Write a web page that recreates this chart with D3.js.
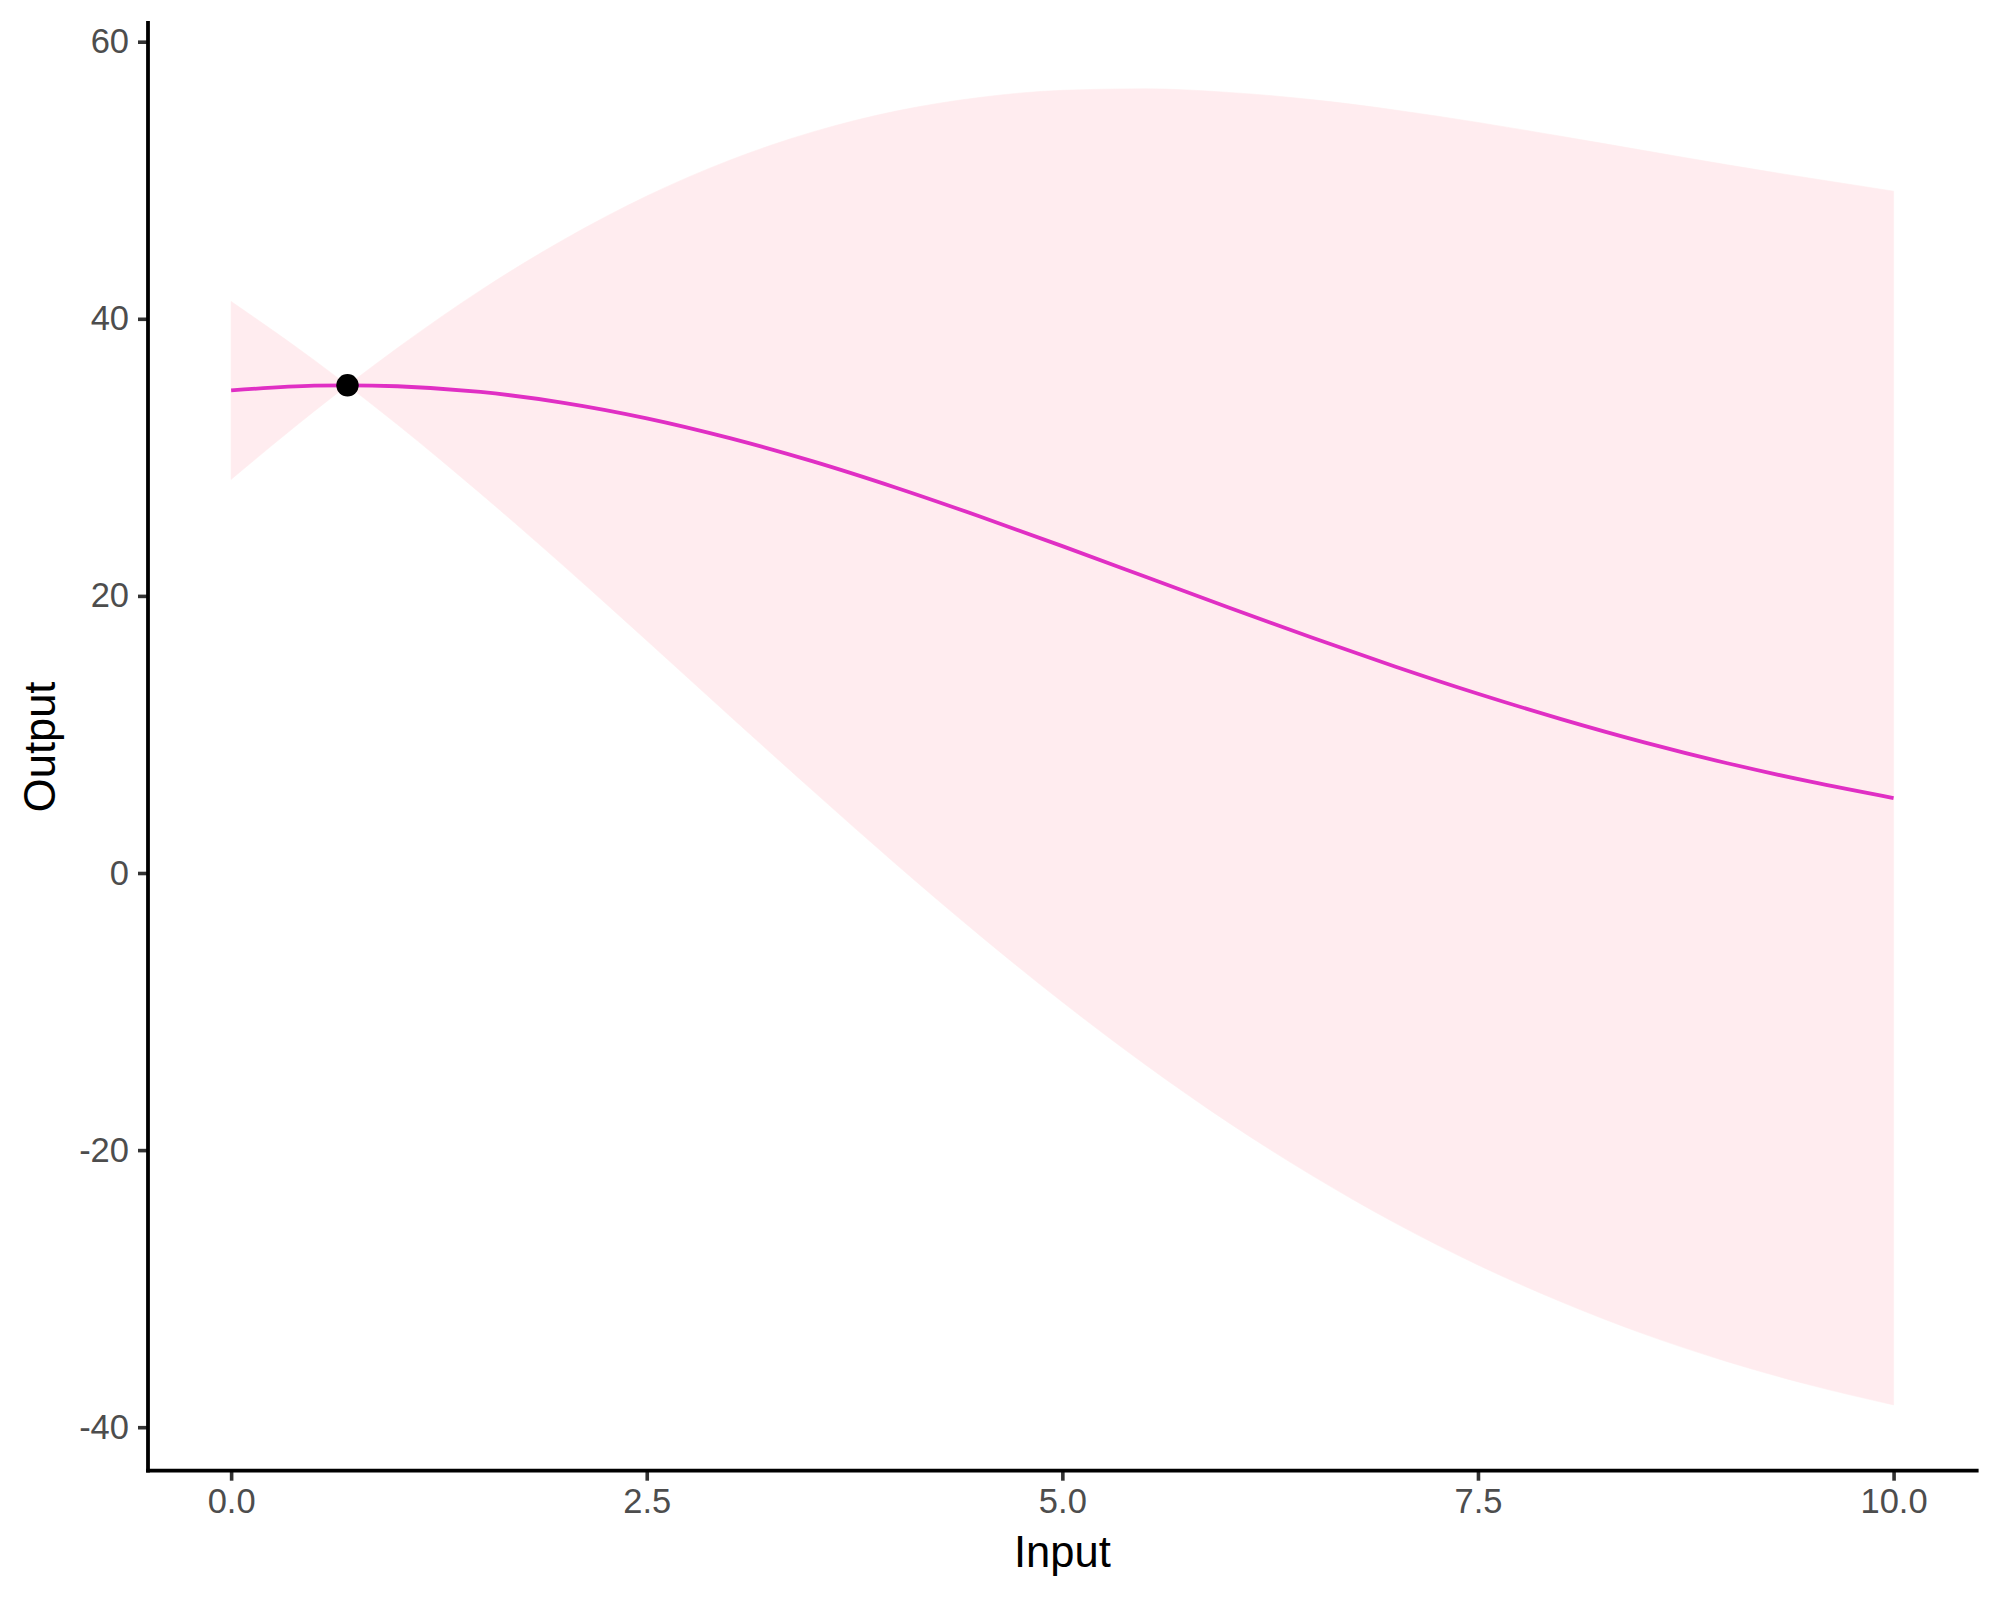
<!DOCTYPE html>
<html>
<head>
<meta charset="utf-8">
<script src="https://cdn.jsdelivr.net/npm/d3@7"></script>
<style>
  html, body { margin: 0; padding: 0; background: #ffffff; }
  svg { display: block; }
</style>
</head>
<body>
<div id="chart"></div>
<script>
// ---- data ----
const inputs = [0, 0.5, 0.7, 1.0, 1.5, 2.0, 2.5, 3.0, 3.5, 4.0, 4.5, 5.0, 5.5, 6.0, 6.5, 7.0, 7.5, 8.0, 8.5, 9.0, 9.5, 10.0];
const meanValues = [34.83, 35.17, 35.2, 35.13, 34.72, 33.94, 32.82, 31.39, 29.71, 27.81, 25.75, 23.59, 21.38, 19.16, 17.00, 14.91, 12.94, 11.11, 9.43, 7.92, 6.59, 5.41];
const upperValues = [41.25, 37.01, 35.2, 37.89, 42.05, 45.71, 48.86, 51.45, 53.49, 54.99, 55.97, 56.49, 56.60, 56.34, 55.82, 55.07, 54.17, 53.17, 52.14, 51.11, 50.14, 49.21];
const lowerValues = [28.41, 33.33, 35.2, 32.37, 27.39, 22.17, 16.78, 11.33, 5.93, 0.63, -4.47, -9.31, -13.84, -18.02, -21.82, -25.25, -28.29, -30.95, -33.28, -35.27, -36.96, -38.39];
const observedX = [0.7];
const observedY = [35.2];
const xTicks = [0, 2.5, 5, 7.5, 10];
const xTickLabels = ["0.0", "2.5", "5.0", "7.5", "10.0"];
const yTicks = [-40, -20, 0, 20, 40, 60];
const yTickLabels = ["-40", "-20", "0", "20", "40", "60"];
const xTitle = "Input";
const yTitle = "Output";

// ---- layout ----
const W = 2000, H = 1600;
const panel = { left: 148, right: 1976.7, top: 23, bottom: 1470.7 };
const font = "'Liberation Sans', Arial, Helvetica, sans-serif";

const rows = inputs.map((x, i) => ({ x, m: meanValues[i], lo: lowerValues[i], hi: upperValues[i] }));

function expand(ext) {
  const pad = (ext[1] - ext[0]) * 0.05;
  return [ext[0] - pad, ext[1] + pad];
}
const xExt = d3.extent(inputs.concat(observedX));
const yExt = d3.extent(lowerValues.concat(upperValues, meanValues, observedY));

const x = d3.scaleLinear().domain(expand(xExt)).range([panel.left, panel.right]);
const y = d3.scaleLinear().domain(expand(yExt)).range([panel.bottom, panel.top]);

const svg = d3.select("#chart").append("svg")
  .attr("width", W).attr("height", H)
  .attr("viewBox", `0 0 ${W} ${H}`);

svg.append("rect").attr("width", W).attr("height", H).attr("fill", "#ffffff");

// ribbon: split at the observation so the pinch stays sharp
const area = d3.area()
  .x(d => x(d.x))
  .y0(d => y(d.lo))
  .y1(d => y(d.hi))
  .curve(d3.curveMonotoneX);

const obsX = observedX[0];
const segments = [rows.filter(r => r.x <= obsX), rows.filter(r => r.x >= obsX)];

svg.selectAll("path.ribbon")
  .data(segments)
  .enter().append("path")
  .attr("class", "ribbon")
  .attr("d", area)
  .attr("fill", "#FFECEF")
  .attr("stroke", "#FFECEF")
  .attr("stroke-width", 0.6);

// mean line
const line = d3.line()
  .x(d => x(d.x))
  .y(d => y(d.m))
  .curve(d3.curveMonotoneX);

svg.append("path")
  .datum(rows)
  .attr("d", line)
  .attr("fill", "none")
  .attr("stroke", "#E02FC4")
  .attr("stroke-width", 3.8)
  .attr("stroke-linejoin", "round")
  .attr("stroke-linecap", "butt");

// observed point
svg.selectAll("circle.obs")
  .data(observedX.map((v, i) => ({ x: v, y: observedY[i] })))
  .enter().append("circle")
  .attr("class", "obs")
  .attr("cx", d => x(d.x))
  .attr("cy", d => y(d.y))
  .attr("r", 11.2)
  .attr("fill", "#000000");

// axes
const xAxis = d3.axisBottom(x)
  .tickValues(xTicks)
  .tickFormat((d, i) => xTickLabels[i])
  .tickSize(10)
  .tickPadding(8);

const yAxis = d3.axisLeft(y)
  .tickValues(yTicks)
  .tickFormat((d, i) => yTickLabels[i])
  .tickSize(10)
  .tickPadding(9);

const gx = svg.append("g")
  .attr("transform", `translate(0,${panel.bottom})`)
  .call(xAxis);
const gy = svg.append("g")
  .attr("transform", `translate(${panel.left},0)`)
  .call(yAxis);

[gx, gy].forEach(g => {
  g.select(".domain").remove();
  g.selectAll(".tick line").attr("stroke", "#333333").attr("stroke-width", 3.6);
  g.selectAll(".tick text")
    .attr("fill", "#4D4D4D")
    .style("font-family", font)
    .style("font-size", "34.5px");
});

// axis lines (theme_classic)
svg.append("line")
  .attr("x1", panel.left).attr("x2", panel.right)
  .attr("y1", panel.bottom).attr("y2", panel.bottom)
  .attr("stroke", "#000000").attr("stroke-width", 3.8)
  .attr("stroke-linecap", "square");
svg.append("line")
  .attr("x1", panel.left).attr("x2", panel.left)
  .attr("y1", panel.top).attr("y2", panel.bottom)
  .attr("stroke", "#000000").attr("stroke-width", 3.8)
  .attr("stroke-linecap", "square");

// titles
svg.append("text")
  .attr("x", (panel.left + panel.right) / 2)
  .attr("y", 1567)
  .attr("text-anchor", "middle")
  .attr("fill", "#000000")
  .style("font-family", font)
  .style("font-size", "43.5px")
  .text(xTitle);

svg.append("text")
  .attr("transform", `translate(55,${(panel.top + panel.bottom) / 2}) rotate(-90)`)
  .attr("text-anchor", "middle")
  .attr("fill", "#000000")
  .style("font-family", font)
  .style("font-size", "43.5px")
  .text(yTitle);
</script>
</body>
</html>
